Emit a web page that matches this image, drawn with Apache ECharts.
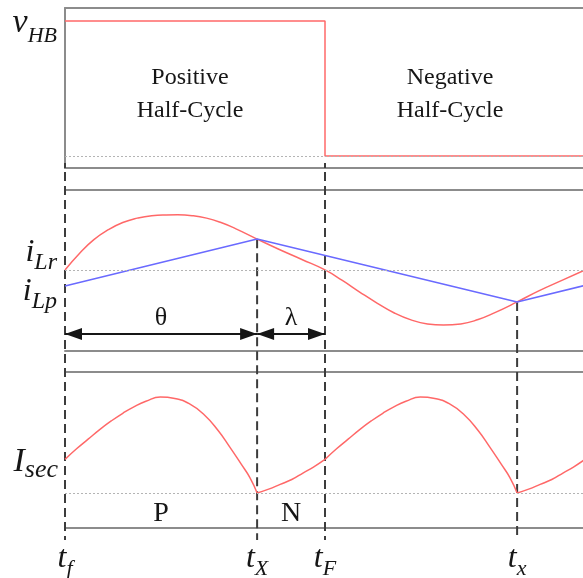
<!DOCTYPE html>
<html>
<head>
<meta charset="utf-8">
<script src="https://cdn.jsdelivr.net/npm/echarts@6/dist/echarts.min.js"></script>
<style>
  html, body { margin: 0; padding: 0; background: #fff; }
  #main { width: 583px; height: 578px; }
</style>
</head>
<body>
<div id="main"></div>
<script>
// 横轴：电角度（度），t_f = 0
const tMarks = [0, 133, 180, 313]
const tNames = ['f', 'X', 'F', 'x']
const tMeet = [false, true, false, true] // t_X / t_x 处虚线从交点开始

// v_HB
const vhbT = [0, 180, 180, 360]
const vhbV = [1, 1, 0, 0]

// i_Lr（红）
const iLrT = [0, 10, 20, 30, 40, 50, 60, 70, 78, 88, 98, 108, 118, 133, 148, 164, 180,
	192, 204, 216, 228, 240, 251, 262, 274, 286, 298, 313, 328, 344, 360]
const iLrV = [0, 0.3, 0.55, 0.73, 0.86, 0.94, 0.985, 0.998, 1.0, 0.985, 0.94, 0.86, 0.75, 0.56, 0.375, 0.19, 0,
	-0.19, -0.4, -0.6, -0.78, -0.91, -0.98, -1.0, -0.98, -0.9, -0.77, -0.58, -0.38, -0.19, 0]

// i_Lp（蓝）
const iLpT = [0, 133, 313, 360]
const iLpV = [-0.29, 0.56, -0.58, -0.28]

// I_sec
const isecT = [0, 8, 16, 24, 32, 40, 48, 56, 66, 76, 86, 96, 106, 114, 122, 128, 133, 141, 149, 157, 165, 172, 180,
	188, 196, 204, 212, 220, 228, 236, 246, 256, 266, 276, 286, 294, 302, 308, 313, 321, 329, 337, 345, 352, 360]
const isecV = [0.35, 0.46, 0.56, 0.66, 0.75, 0.83, 0.9, 0.955, 1.0, 0.985, 0.93, 0.82, 0.65, 0.48, 0.3, 0.16, 0, 0.04, 0.09, 0.14, 0.21, 0.27, 0.35,
	0.46, 0.56, 0.66, 0.75, 0.83, 0.9, 0.955, 1.0, 0.985, 0.93, 0.82, 0.65, 0.48, 0.3, 0.16, 0, 0.04, 0.09, 0.14, 0.21, 0.27, 0.35]

// 区间标注
const halfNames = ['Positive\nHalf-Cycle', 'Negative\nHalf-Cycle']
const modeNames = ['P', 'N']
const spanNames = ['θ', 'λ']

const serif = '"Liberation Serif", "DejaVu Serif", serif'
const RED = '#ff6868'
const BLUE = '#6a6aff'
const FRAME = '#8c8c8c'
const DASH = '#3c3c3c'
const DOT = '#b4b4b4'
const INK = '#161616'

const OV_MIN = -4.9
const OV_MAX = 1.78

// 箭头：尖端在符号中心
const ARROW = 'path://M6,17L12,34L0,34Z M6,0L6.01,0L6,0.01Z'

const pairs = (xs, ys) => xs.map((x, i) => [x, ys[i]])

// I_sec 按 t 标记分段，保留拐点
const bounds = tMarks.concat([360])
const isecSegs = []
for (let k = 0; k < bounds.length - 1; k++) {
	isecSegs.push(pairs(isecT, isecV).filter(p => p[0] >= bounds[k] && p[0] <= bounds[k + 1]))
}

const frameAxis = (grid, pos) => ({
	type: 'value', gridIndex: grid, position: pos, min: 0, max: 360,
	axisLine: { show: true, onZero: false, lineStyle: { color: FRAME, width: 2 } },
	axisTick: { show: false }, axisLabel: { show: false }, splitLine: { show: false }
})

const sym = (mSize, sSize, lift) => ({
	m: { fontSize: mSize, fontStyle: 'italic', fontFamily: serif, color: INK, verticalAlign: 'bottom', padding: [0, 0, lift, 0] },
	s: { fontSize: sSize, fontStyle: 'italic', fontFamily: serif, color: INK, verticalAlign: 'bottom' }
})

const dotted = { silent: true, symbol: 'none', label: { show: false }, lineStyle: { color: DOT, width: 1, type: [2, 2] }, data: [{ yAxis: 0 }] }

const guides = tMarks.map((t, k) => ({
	type: 'line', xAxisIndex: 6, yAxisIndex: 3, silent: true, symbol: 'none', z: 1,
	lineStyle: { color: DASH, width: 2, type: [9, 5] },
	data: [[t, tMeet[k] ? iLpV[iLpT.indexOf(t)] : OV_MAX], [t, OV_MIN]]
}))

const option = {
	animation: false,
	backgroundColor: '#fff',
	grid: [
		{ left: 65, top: 8, width: 520, height: 160, outerBoundsMode: 'none', containLabel: false },
		{ left: 65, top: 190, width: 520, height: 161, outerBoundsMode: 'none', containLabel: false },
		{ left: 65, top: 372, width: 520, height: 156, outerBoundsMode: 'none', containLabel: false },
		{ left: 65, top: 172, width: 520, height: 368, outerBoundsMode: 'none', containLabel: false }
	],
	xAxis: [
		Object.assign(frameAxis(0, 'bottom'), {
			axisTick: { show: true, inside: true, length: 5, customValues: [0, 180], lineStyle: { color: DASH, width: 2 } }
		}),
		frameAxis(0, 'top'),
		frameAxis(1, 'bottom'),
		frameAxis(1, 'top'),
		frameAxis(2, 'bottom'),
		frameAxis(2, 'top'),
		{
			type: 'value', gridIndex: 3, min: 0, max: 360,
			axisLine: { show: false }, axisTick: { show: false }, splitLine: { show: false },
			axisLabel: {
				show: true, customValues: tMarks, margin: 3,
				formatter: v => '{m|t}{s|' + tNames[tMarks.indexOf(v)] + '}',
				rich: sym(32, 22, 5)
			}
		}
	],
	yAxis: [
		{
			type: 'value', gridIndex: 0, min: -0.089, max: 1.096,
			axisLine: { show: true, onZero: false, lineStyle: { color: FRAME, width: 2 } },
			axisTick: { show: false }, splitLine: { show: false },
			axisLabel: { show: true, customValues: [0.96], margin: 8, formatter: () => '{m|v}{s|HB}', rich: sym(34, 22, 7) }
		},
		{
			type: 'value', gridIndex: 1, min: -1.47, max: 1.45,
			axisLine: { show: false }, axisTick: { show: false }, splitLine: { show: false },
			axisLabel: {
				show: true, customValues: [0.26, -0.44], margin: 8,
				formatter: v => (v > 0 ? '{m|i}{s|Lr}' : '{m|i}{s|Lp}'),
				rich: sym(32, 24, 6)
			}
		},
		{
			type: 'value', gridIndex: 2, min: -0.365, max: 1.26,
			axisLine: { show: false }, axisTick: { show: false }, splitLine: { show: false },
			axisLabel: { show: true, customValues: [0.3], margin: 7, formatter: () => '{m|I}{s|sec}', rich: sym(34, 26, 5) }
		},
		{ type: 'value', gridIndex: 3, min: OV_MIN, max: OV_MAX, show: false }
	],
	series: [
		{
			name: 'vHB', type: 'line', xAxisIndex: 0, yAxisIndex: 0, symbol: 'none', z: 3,
			lineStyle: { color: RED, width: 1.5 },
			data: pairs(vhbT, vhbV),
			markLine: dotted,
			markArea: {
				silent: true,
				itemStyle: { color: 'rgba(0,0,0,0)' },
				label: { show: true, position: 'inside', offset: [-5, 6], formatter: '{b}', fontFamily: serif, fontSize: 24, lineHeight: 33, color: INK },
				data: [
					[{ name: halfNames[0], xAxis: 0 }, { xAxis: 180 }],
					[{ name: halfNames[1], xAxis: 180 }, { xAxis: 360 }]
				]
			}
		},
		{
			name: 'iLr', type: 'line', xAxisIndex: 2, yAxisIndex: 1, symbol: 'none', smooth: 0.5, z: 3,
			lineStyle: { color: RED, width: 1.5 },
			data: pairs(iLrT, iLrV),
			markLine: dotted
		},
		{
			name: 'iLp', type: 'line', xAxisIndex: 2, yAxisIndex: 1, symbol: 'none', z: 3,
			lineStyle: { color: BLUE, width: 1.5 },
			data: pairs(iLpT, iLpV),
			markLine: {
				silent: true,
				symbol: [ARROW, ARROW],
				symbolSize: [12, 34],
				lineStyle: { color: INK, width: 2, type: 'solid' },
				itemStyle: { color: INK },
				label: { show: true, position: 'insideMiddleTop', distance: 3, formatter: '{b}', fontFamily: serif, fontSize: 26, color: INK },
				data: [
					[{ name: spanNames[0], coord: [tMarks[0], -1.16] }, { coord: [tMarks[1], -1.16] }],
					[{ name: spanNames[1], coord: [tMarks[1], -1.16] }, { coord: [tMarks[2], -1.16] }]
				]
			}
		}
	].concat(isecSegs.map((seg, k) => {
		const s = {
			name: 'Isec', type: 'line', xAxisIndex: 4, yAxisIndex: 2, symbol: 'none', smooth: 0.5, z: 3,
			lineStyle: { color: RED, width: 1.5 },
			data: seg
		}
		if (k === 0) {
			s.markLine = dotted
			s.markArea = {
				silent: true,
				itemStyle: { color: 'rgba(0,0,0,0)' },
				label: { show: true, position: 'insideBottom', distance: 0, formatter: '{b}', fontFamily: serif, fontSize: 28, color: INK },
				data: [
					[{ name: modeNames[0], xAxis: tMarks[0] }, { xAxis: tMarks[1] }],
					[{ name: modeNames[1], xAxis: tMarks[1] }, { xAxis: tMarks[2] }]
				]
			}
		}
		return s
	})).concat(guides)
}

const myChart = echarts.init(document.getElementById('main'))
myChart.setOption(option)
window.onresize = () => {
	myChart.resize()
}
</script>
</body>
</html>
